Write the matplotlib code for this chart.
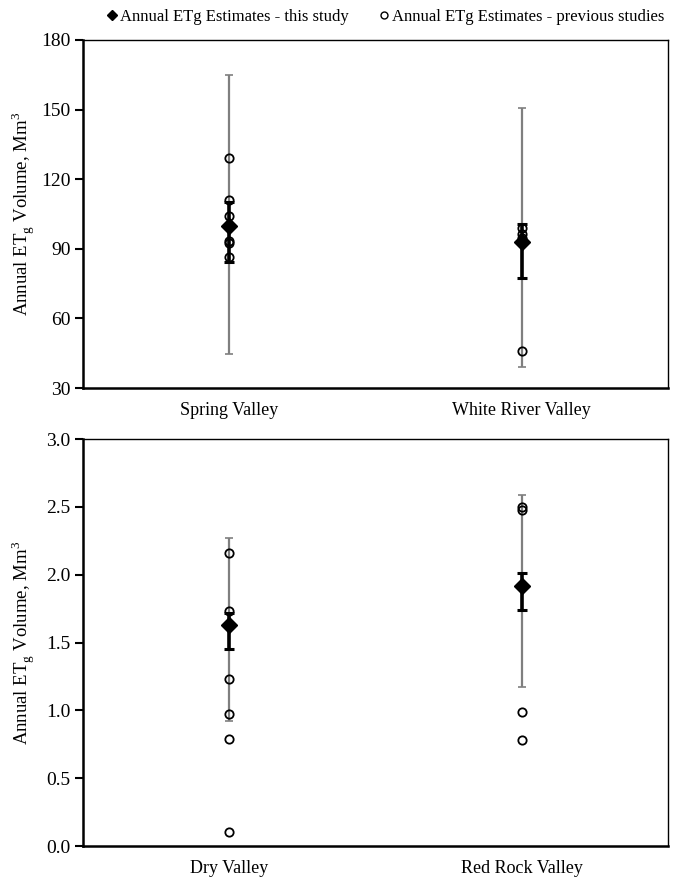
import numpy as np
import matplotlib.pyplot as plt
from matplotlib.lines import Line2D

plt.rcParams['font.family'] = ['Liberation Serif', 'DejaVu Serif']
plt.rcParams['mathtext.fontset'] = 'custom'
plt.rcParams['mathtext.rm'] = 'Liberation Serif'

# --- data: top panel ---
top_sites = ["Spring Valley", "White River Valley"]
top_this = [100.0, 93.0]
top_this_lo = [84.5, 77.3]
top_this_hi = [110.0, 100.5]
top_range_lo = [44.5, 39.0]
top_range_hi = [165.0, 150.5]
top_prev = [[129.0, 111.0, 104.0, 93.2, 92.5, 86.5],
            [99.0, 96.5, 94.5, 46.0]]

# --- data: bottom panel ---
bot_sites = ["Dry Valley", "Red Rock Valley"]
bot_this = [1.63, 1.92]
bot_this_lo = [1.45, 1.74]
bot_this_hi = [1.72, 2.01]
bot_range_lo = [0.92, 1.17]
bot_range_hi = [2.27, 2.59]
bot_prev = [[2.16, 1.73, 1.23, 0.97, 0.79, 0.10],
            [2.50, 2.48, 0.99, 0.78]]

YLABEL = r"Annual ET$_\mathregular{g}$ Volume, Mm$^\mathregular{3}$"


def draw_panel(ax, sites, this, lo, hi, rlo, rhi, prev, ylim, yticks, fmt):
    x = np.arange(len(sites))
    this = np.array(this)
    # range of previous estimates (grey)
    ax.errorbar(x, this, yerr=[this - np.array(rlo), np.array(rhi) - this],
                fmt='none', ecolor='#7f7f7f', elinewidth=1.6, capsize=3, capthick=1.2, zorder=2)
    for xi, vals in zip(x, prev):
        ax.plot([xi] * len(vals), vals, 'o', mfc='none', mec='black', ms=6, mew=1.3, zorder=3)
    # this study (black)
    ax.errorbar(x, this, yerr=[this - np.array(lo), np.array(hi) - this],
                fmt='none', ecolor='black', elinewidth=2.6, capsize=3.5, capthick=2.2, zorder=4)
    ax.plot(x, this, 'D', color='black', ms=8, zorder=5)

    ax.set_xlim(-0.5, len(sites) - 0.5)
    ax.set_ylim(*ylim)
    ax.set_yticks(yticks)
    ax.set_yticklabels([fmt.format(v) for v in yticks], fontsize=14)
    ax.set_xticks(x)
    ax.set_xticklabels(sites, fontsize=13)
    ax.tick_params(axis='x', length=0, pad=10)
    ax.tick_params(axis='y', direction='out', length=6, width=1.5, pad=3)
    ax.set_ylabel(YLABEL, fontsize=13.5)
    ax.yaxis.set_label_coords(-0.078, 0.5)
    for s in ['left', 'bottom']:
        ax.spines[s].set_linewidth(1.8)
    for s in ['top', 'right']:
        ax.spines[s].set_linewidth(1.0)


fig = plt.figure(figsize=(6.81, 8.8), dpi=100)
ax1 = fig.add_axes([83 / 681, 1 - 388 / 880, 585 / 681, 348 / 880])
ax2 = fig.add_axes([83 / 681, 1 - 846 / 880, 585 / 681, 407 / 880])

draw_panel(ax1, top_sites, top_this, top_this_lo, top_this_hi, top_range_lo, top_range_hi,
           top_prev, (30, 180), [30, 60, 90, 120, 150, 180], "{:.0f}")
draw_panel(ax2, bot_sites, bot_this, bot_this_lo, bot_this_hi, bot_range_lo, bot_range_hi,
           bot_prev, (0, 3.0), [0.0, 0.5, 1.0, 1.5, 2.0, 2.5, 3.0], "{:.1f}")

handles = [Line2D([], [], ls='none', marker='D', color='black', ms=5),
           Line2D([], [], ls='none', marker='o', mfc='none', mec='black', ms=5)]
fig.legend(handles, ["Annual ETg Estimates - this study", "Annual ETg Estimates - previous studies"],
           loc='center', bbox_to_anchor=(384 / 681, 1 - 17 / 880), ncol=2, frameon=False,
           fontsize=12.0, handletextpad=0.0, columnspacing=1.6, handlelength=1.0)

fig.savefig("out.png", dpi=100)
